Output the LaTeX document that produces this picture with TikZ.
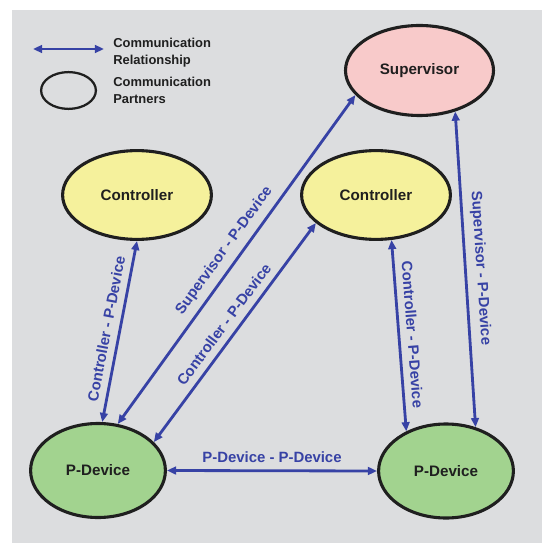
\documentclass[tikz,border=0pt]{standalone}
\usepackage{fontspec}
\setmainfont{Liberation Sans}
\usetikzlibrary{shapes.geometric,arrows.meta}
\definecolor{bggray}{RGB}{220,221,223}
\definecolor{linkblue}{RGB}{55,66,165}
\definecolor{ctrlyellow}{RGB}{245,241,156}
\definecolor{supvpink}{RGB}{248,202,202}
\definecolor{devgreen}{RGB}{162,211,143}
\begin{document}
\begin{tikzpicture}[
    partner/.style={ellipse,draw=black!88,line width=2.2pt,inner sep=0pt,
      font=\bfseries\fontsize{10.8}{12}\selectfont,text=black!88},
    link/.style={{Triangle[length=6.5pt,width=5.5pt]}-{Triangle[length=6.5pt,width=5.5pt]},
      draw=linkblue,line width=2pt},
    linklabel/.style={midway,sloped,above=1.5pt,text=linkblue,
      font=\bfseries\fontsize{10.6}{12}\selectfont},
    legendtext/.style={anchor=west,align=left,inner sep=0pt,text=black!88,
      font=\bfseries\fontsize{9.2}{12.1}\selectfont}]
  \useasboundingbox (0,0) rectangle (13.55,-13.575);
  \fill[bggray] (0.3,-0.25) rectangle (13.55,-13.575);
  %legend
  \coordinate (lgl) at (0.825,-1.225);
  \coordinate (lgr) at (2.6,-1.225);
  \draw[link] (lgl) -- (lgr);
  \node[legendtext] (lgrel) at (2.825,-1.32) {Communication\\Relationship};
  \node[ellipse,draw=black!88,line width=1.6pt,minimum width=1.37cm,minimum height=0.92cm] (lgell) at (1.7125,-2.2625) {};
  \node[legendtext] (lgpart) at (2.825,-2.27) {Communication\\Partners};
  %partners
  \node[partner,fill=supvpink,minimum width=3.7cm,minimum height=2.25cm] (sv) at (10.4875,-1.7625) {Supervisor};
  \node[partner,fill=ctrlyellow,minimum width=3.72cm,minimum height=2.22cm] (cl) at (3.425,-4.875) {Controller};
  \node[partner,fill=ctrlyellow,minimum width=3.72cm,minimum height=2.22cm] (cr) at (9.4,-4.875) {Controller};
  \node[partner,fill=devgreen,minimum width=3.37cm,minimum height=2.35cm] (pl) at (2.45,-11.7625) {P-Device};
  \node[partner,fill=devgreen,minimum width=3.37cm,minimum height=2.35cm] (pr) at (11.15,-11.775) {P-Device};
  %relationships
  \draw[link] (pl.85.5) -- node[linklabel] {Controller - P-Device} (cl.south);
  \draw[link] (pl.67) -- node[linklabel] {Supervisor - P-Device} (sv.201);
  \draw[link] (pl.27) -- node[linklabel] {Controller - P-Device} (cr.205.5);
  \draw[link] (cr.289.5) -- node[linklabel] {Controller - P-Device} (pr.135.7);
  \draw[link] (sv.311) -- node[linklabel] {Supervisor - P-Device} (pr.56.3);
  \draw[link] (pl.east) -- node[linklabel] {P-Device - P-Device} (pr.west);
\end{tikzpicture}
\end{document}
